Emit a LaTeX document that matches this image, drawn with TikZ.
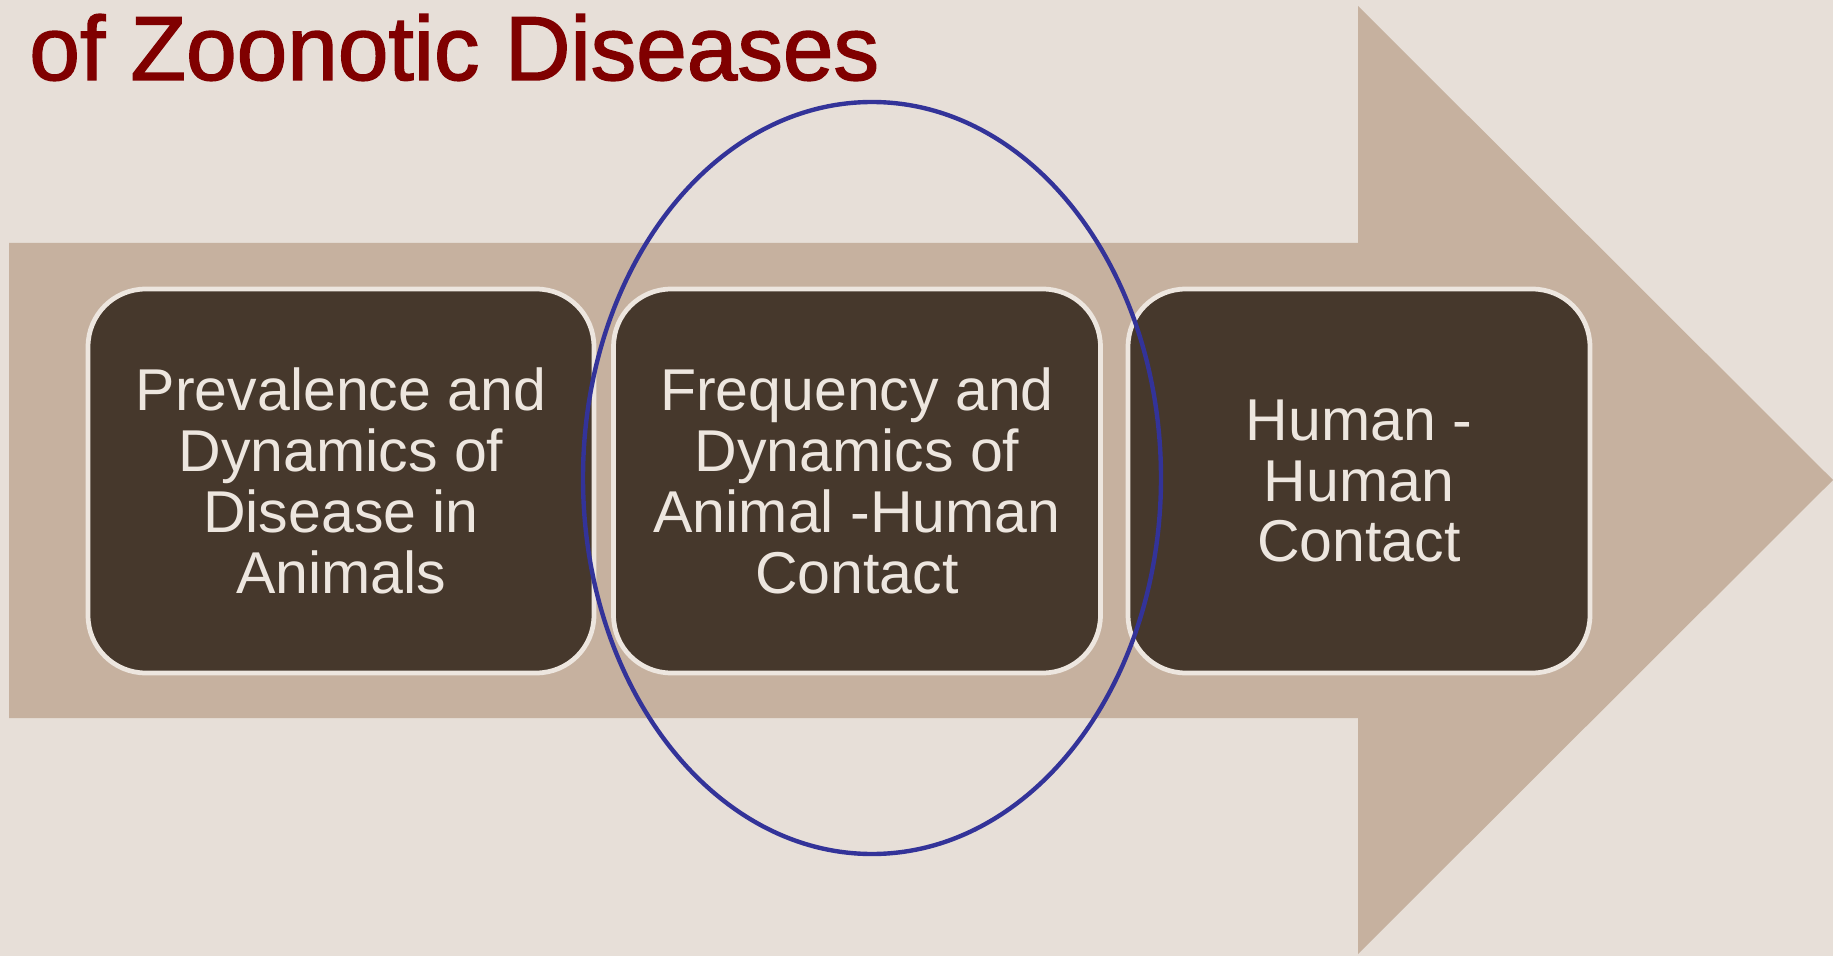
\documentclass[tikz,border=0pt]{standalone}
\usepackage{fontspec}
\setmainfont{Liberation Sans}
\newfontfamily\titlefont[FakeBold=1.6]{Liberation Sans}
\usetikzlibrary{positioning}
\definecolor{bgsand}{HTML}{E7DFD8}
\definecolor{arrowtan}{HTML}{C6B19F}
\definecolor{boxbrown}{HTML}{46382C}
\definecolor{boxline}{HTML}{EDE6DF}
\definecolor{titlered}{HTML}{800000}
\definecolor{ringblue}{HTML}{333399}

\begin{document}
\begin{tikzpicture}[x=0.02cm, y=-0.02cm,
	stage/.style={draw=boxline, line width=2.7pt, fill=boxbrown, rounded corners=1.15cm,
		text=boxline, align=center, minimum height=7.68cm, inner sep=0pt,
		font=\fontsize{33.6}{34.7}\selectfont}]
	\useasboundingbox[fill=bgsand] (0,0) rectangle (1833,956);
	% big arrow behind the stages
	\fill[arrowtan] (9,243) -- (1358,243) -- (1358,6) -- (1833,480) -- (1358,954)
		-- (1358,718) -- (9,718) -- cycle;
	\node[anchor=base west, text=titlered, font=\titlefont\fontsize{51.8}{60}\selectfont, inner sep=0pt]
		(title) at (29,80) {of Zoonotic Diseases};
	\node[stage, minimum width=10.12cm] (animals) at (341,481)
		{Prevalence and\\Dynamics of\\Disease in\\Animals};
	\node[stage, minimum width=9.74cm] (contact) at (857,481)
		{Frequency and\\Dynamics of\\Animal -Human\\Contact};
	\node[stage, minimum width=9.24cm] (human) at (1359,481)
		{Human -\\Human\\Contact};
	% highlight round the middle stage
	\draw[ringblue, line width=2.5pt] (872,478) ellipse [x radius=289, y radius=376];
\end{tikzpicture}
\end{document}
